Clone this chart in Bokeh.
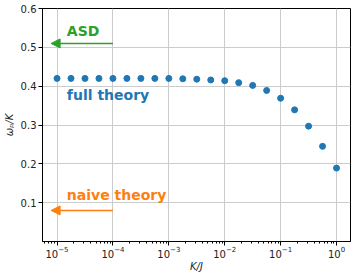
from bokeh.plotting import figure
from bokeh.models import FixedTicker, Arrow, NormalHead, Range1d, ColumnDataSource
from bokeh.core.properties import value
from bokeh.embed import file_html
from bokeh.resources import INLINE

# data
k_over_j = [1e-5, 10**-4.75, 10**-4.5, 10**-4.25, 1e-4, 10**-3.75, 10**-3.5, 10**-3.25,
            1e-3, 10**-2.75, 10**-2.5, 10**-2.25, 1e-2, 10**-1.75, 10**-1.5, 10**-1.25,
            1e-1, 10**-0.75, 10**-0.5, 10**-0.25, 1.0]
omega_p = [0.420, 0.420, 0.420, 0.420, 0.420, 0.420, 0.420, 0.420,
           0.420, 0.419, 0.418, 0.416, 0.414, 0.409, 0.402, 0.389,
           0.369, 0.339, 0.297, 0.245, 0.189]
y_ticks = [0.1, 0.2, 0.3, 0.4, 0.5, 0.6]
x_ticks = [1e-5, 1e-4, 1e-3, 1e-2, 1e-1, 1e0]
asd_level = 0.51
naive_level = 0.080

BLUE = "#1f77b4"
GREEN = "#2ca02c"
ORANGE = "#ff7f0e"
FONT = "DejaVu Sans"

p = figure(width=353, height=274, x_axis_type="log",
           x_range=Range1d(10**-5.26, 10**0.25), y_range=Range1d(0.0, 0.6),
           output_backend="svg", toolbar_location=None,
           min_border_left=37, min_border_right=3, min_border_top=8, min_border_bottom=32)
p.outline_line_color = "black"
p.outline_line_width = 1
p.background_fill_color = "white"

minor = [m * 10.0**e for e in range(-6, 1) for m in range(2, 10)]
p.xaxis.ticker = FixedTicker(ticks=x_ticks, minor_ticks=minor)
p.yaxis.ticker = FixedTicker(ticks=y_ticks)

for ax in (p.xaxis[0], p.yaxis[0]):
    ax.axis_line_color = "black"
    ax.major_tick_line_color = "black"
    ax.major_tick_out = 4
    ax.major_tick_in = 0
    ax.minor_tick_out = 2
    ax.minor_tick_in = 0
    ax.major_label_text_font = FONT
    ax.major_label_text_font_size = "10px"
    ax.major_label_text_color = "#222222"
    ax.axis_label_text_font = FONT
    ax.axis_label_text_font_style = "italic"
    ax.axis_label_text_font_size = "10px"
    ax.axis_label_text_color = "#222222"
p.yaxis.minor_tick_line_color = None
p.yaxis.major_label_standoff = 2
p.xaxis.major_label_standoff = 0
p.xaxis.axis_label = "K/J"
p.yaxis.axis_label = "ωₚ/K"
p.xaxis.axis_label_standoff = 0
p.yaxis.axis_label_standoff = 3

p.xgrid.ticker = FixedTicker(ticks=x_ticks)
p.ygrid.ticker = FixedTicker(ticks=y_ticks)
p.grid.grid_line_color = "#cccccc"
p.grid.grid_line_width = 1

src = ColumnDataSource(dict(x=k_over_j, y=omega_p))
p.scatter("x", "y", source=src, size=6, color=BLUE, line_color=BLUE)

tip_x = 10**-5.106
p.add_layout(Arrow(x_start=1e-4, y_start=asd_level, x_end=tip_x, y_end=asd_level,
                   line_color=GREEN, line_width=1.5,
                   end=NormalHead(size=9, fill_color=GREEN, line_color=GREEN)))
p.add_layout(Arrow(x_start=1e-4, y_start=naive_level, x_end=tip_x, y_end=naive_level,
                   line_color=ORANGE, line_width=1.5,
                   end=NormalHead(size=9, fill_color=ORANGE, line_color=ORANGE)))

tx = 10**-4.824
p.text(x=[tx], y=[0.541], text=["ASD"], text_color=GREEN, text_font=value(FONT),
       text_font_style="bold", text_font_size="14px", text_baseline="middle", text_align="left")
p.text(x=[tx], y=[0.378], text=["full theory"], text_color=BLUE, text_font=value(FONT),
       text_font_style="bold", text_font_size="14px", text_baseline="middle", text_align="left")
p.text(x=[tx], y=[0.119], text=["naive theory"], text_color=ORANGE, text_font=value(FONT),
       text_font_style="bold", text_font_size="14px", text_baseline="middle", text_align="left")

open("out.html", "w").write(file_html(p, INLINE))
